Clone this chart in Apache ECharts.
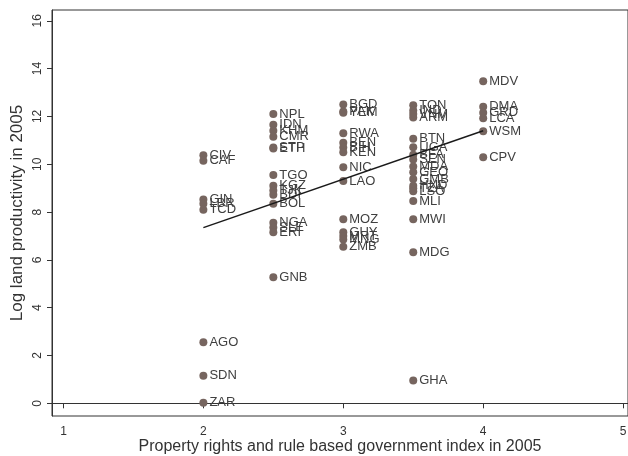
<!DOCTYPE html>
<html lang="en">
<head>
    <meta charset="UTF-8">
    <script src="https://cdn.jsdelivr.net/npm/echarts@6/dist/echarts.min.js"></script>
    <title>Land productivity vs property rights</title>
    <style>
        html,body{
            height:100%;
            width:100%;
            margin:0;
            padding:0;
            background:#fff;
        }
    </style>
</head>
<body>
    <div id="main" style="width:628px;height:456px"></div>
    <script>
        // country codes, index (x) and log land productivity (y)
        var countries = ['CIV','CAF','GIN','LBR','TCD','AGO','SDN','ZAR',
            'NPL','IDN','KHM','CMR','STP','ETH','TGO','KGZ','TJK','BDI','BOL','NGA','SLE','ERI','GNB',
            'BGD','PAK','YEM','RWA','BEN','BIH','KEN','NIC','LAO','MOZ','GUY','MRT','MNG','ZMB',
            'TON','IND','VNM','ARM','BTN','UGA','BFA','SEN','MDA','GEO','GMB','HND','TZA','LSO','MLI','MWI','MDG','GHA',
            'MDV','DMA','GRD','LCA','WSM','CPV'];
        var indexVals = [2,2,2,2,2,2,2,2,
            2.5,2.5,2.5,2.5,2.5,2.5,2.5,2.5,2.5,2.5,2.5,2.5,2.5,2.5,2.5,
            3,3,3,3,3,3,3,3,3,3,3,3,3,3,
            3.5,3.5,3.5,3.5,3.5,3.5,3.5,3.5,3.5,3.5,3.5,3.5,3.5,3.5,3.5,3.5,3.5,3.5,
            4,4,4,4,4,4];
        var productivity = [10.38,10.15,8.52,8.35,8.1,2.55,1.15,0.02,
            12.1,11.65,11.4,11.15,10.7,10.66,9.55,9.1,8.9,8.72,8.35,7.55,7.35,7.15,5.27,
            12.5,12.2,12.15,11.3,10.9,10.7,10.5,9.87,9.3,7.7,7.15,7.0,6.85,6.55,
            12.47,12.25,12.1,11.95,11.07,10.71,10.4,10.2,9.9,9.66,9.38,9.1,9.0,8.87,8.46,7.7,6.32,0.95,
            13.47,12.4,12.15,11.92,11.38,10.29];
        var fitLine = [[2, 7.35], [4, 11.4]];
        var xTicks = [1, 2, 3, 4, 5];
        var yTicks = [0, 2, 4, 6, 8, 10, 12, 14, 16];

        var points = countries.map(function (c, i) {
            return [indexVals[i], productivity[i], c];
        });

        var myChart = echarts.init(document.getElementById('main'));
        var axisColor = '#333';
        var option = {
            backgroundColor: '#fff',
            animation: false,
            textStyle: { fontFamily: 'Liberation Sans, Arial, sans-serif' },
            grid: {
                left: 52, right: 0, top: 10, bottom: 40,
                outerBoundsMode: 'none',
                containLabel: false,
                show: true, borderColor: axisColor, borderWidth: 1
            },
            xAxis: {
                type: 'value',
                min: 0.918, max: 5.035,
                name: 'Property rights and rule based government index in 2005',
                nameLocation: 'middle',
                nameGap: 23,
                nameMoveOverlap: false,
                nameTextStyle: { fontSize: 16, color: axisColor, verticalAlign: 'top' },
                splitLine: { show: false },
                axisLine: { lineStyle: { color: axisColor } },
                axisTick: { customValues: xTicks, length: 5, lineStyle: { color: axisColor } },
                axisLabel: { customValues: xTicks, fontSize: 12, color: axisColor, margin: 10 }
            },
            yAxis: {
                type: 'value',
                min: -0.53, max: 16.45,
                name: 'Log land productivity in 2005',
                nameLocation: 'middle',
                nameGap: 26,
                nameMoveOverlap: false,
                nameTextStyle: { fontSize: 17, color: axisColor },
                splitLine: { show: false },
                axisLine: { show: true, lineStyle: { color: axisColor } },
                axisTick: { show: true, customValues: yTicks, length: 5, lineStyle: { color: axisColor } },
                axisLabel: { customValues: yTicks, rotate: 90, fontSize: 12, color: axisColor, margin: 8 }
            },
            series: [{
                type: 'scatter',
                data: points,
                symbolSize: 8,
                itemStyle: { color: '#76655f', opacity: 1 },
                label: {
                    show: true,
                    position: 'right',
                    distance: 2,
                    fontSize: 13,
                    color: '#404040',
                    formatter: function (p) { return p.value[2]; }
                }
            }, {
                type: 'line',
                data: fitLine,
                symbol: 'none',
                lineStyle: { color: '#1a1a1a', width: 1.5 },
                z: 3
            }]
        };
        myChart.setOption(option);
    </script>
</body>
</html>
